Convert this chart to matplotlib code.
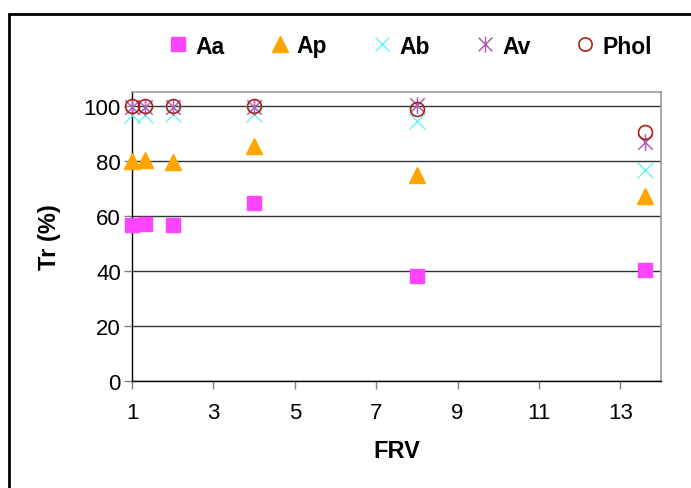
import matplotlib
matplotlib.use("Agg")
import matplotlib.pyplot as plt
from matplotlib.path import Path
from matplotlib.patches import Rectangle

plt.rcParams['font.family'] = ['Liberation Sans', 'DejaVu Sans']

frv = [1, 1.33, 2, 4, 8, 13.6]
aa = [56.8, 57.2, 56.8, 64.5, 38.3, 40.5]
ap = [79.8, 80.4, 79.7, 85.2, 74.8, 67.3]
ab = [96.5, 96.5, 97.0, 97.0, 94.4, 76.5]
av = [99.6, 99.6, 99.6, 99.6, 100.1, 86.8]
phol = [100.0, 100.0, 99.8, 99.8, 98.7, 90.4]
series_names = ['Aa', 'Ap', 'Ab', 'Av', 'Phol']
x_ticks = [1, 3, 5, 7, 9, 11, 13]
y_ticks = [0, 20, 40, 60, 80, 100]

W, H = 691, 489
fig = plt.figure(figsize=(W / 100, H / 100), dpi=100)
ax = fig.add_axes([132 / W, 1 - 382 / H, (661 - 132) / W, (382 - 93) / H])

ast = Path([(-1, -1), (1, 1), (-1, 1), (1, -1), (0, -1.15), (0, 1.15)],
           [Path.MOVETO, Path.LINETO, Path.MOVETO, Path.LINETO, Path.MOVETO, Path.LINETO])

ax.plot(frv, aa, ls='none', marker='s', ms=10, mfc='#FF44FF', mec='#FF44FF', label=series_names[0], zorder=3, clip_on=False)
ax.plot(frv, ap, ls='none', marker='^', ms=12, mfc='#FFA500', mec='#FFA500', label=series_names[1], zorder=3, clip_on=False)
ax.plot(frv, ab, ls='none', marker='x', ms=11, mec='#66F5F5', mew=1.0, label=series_names[2], zorder=3, clip_on=False)
ax.plot(frv, av, ls='none', marker=ast, ms=12, mec='#B060B0', mfc='none', mew=1.1, label=series_names[3], zorder=4, clip_on=False)
ax.plot(frv, phol, ls='none', marker='o', ms=10, mfc='none', mec='#A82218', mew=1.2, label=series_names[4], zorder=5, clip_on=False)

ax.set_xlim(1, 14)
ax.set_ylim(0, 105)
ax.set_xticks(x_ticks)
ax.set_yticks(y_ticks)
ax.tick_params(axis='both', labelsize=16, direction='out', length=6, width=1, color='#808080')
ax.tick_params(axis='x', pad=9)
ax.tick_params(axis='y', pad=2)
ax.yaxis.grid(True, color='#333333', lw=1)
ax.set_axisbelow(True)
for s in ['top', 'right']:
    ax.spines[s].set_color('#9A9A9A')
    ax.spines[s].set_linewidth(1.2)
for s in ['left', 'bottom']:
    ax.spines[s].set_color('black')
    ax.spines[s].set_linewidth(1)

ax.set_xlabel('FRV', fontsize=17, fontweight='bold', labelpad=12)
ax.set_ylabel('Tr (%)', fontsize=17, fontweight='bold', labelpad=16)

fig.legend(loc='center', bbox_to_anchor=(410 / W, 1 - 47 / H), ncol=5, frameon=False,
           prop={'size': 16.5, 'weight': 'bold'}, handlelength=0.9, handletextpad=0.3,
           columnspacing=1.95, markerscale=0.95)

fig.add_artist(Rectangle((9 / W, -0.1), 1.2, 1.1 - 15 / H, transform=fig.transFigure,
                         fill=False, ec='black', lw=2, zorder=10))

fig.savefig('out.png', dpi=100)
